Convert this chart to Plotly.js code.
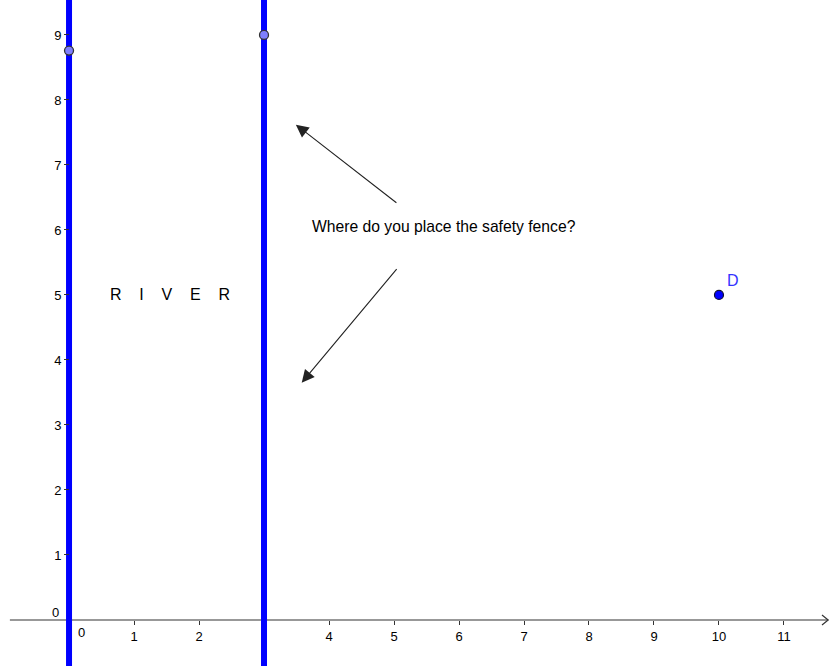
<!DOCTYPE html>
<html>
<head>
<meta charset="utf-8">
<script src="https://cdn.plot.ly/plotly-3.0.1.min.js"></script>
<style>html,body{margin:0;padding:0;background:#fff;}#chart{width:835px;height:666px;}</style>
</head>
<body>
<div id="chart"></div>
<script>
// ---- data ----
var fenceX = [0, 3];                  // river banks (vertical lines)
var bankPointX = [0, 3];
var bankPointY = [8.76, 9];
var pointD = {x: [10], y: [5], label: 'D'};
var xTicks = [1, 2, 4, 5, 6, 7, 8, 9, 10, 11];
var yTicks = [1, 2, 3, 4, 5, 6, 7, 8, 9];
var question = 'Where do you place the safety fence?';
var riverLetters = ['R', 'I', 'V', 'E', 'R'];
var arrowTails = [[5.06, 6.4], [5.06, 5.42]];
var arrowTips = [[3.49, 7.62], [3.58, 3.65]];

var xr = [-1.062, 11.785];
var yr = [-0.708, 9.538];
var FONT = 'Liberation Sans, Arial, sans-serif';

var traces = [];
fenceX.forEach(function (fx) {
  traces.push({x: [fx, fx], y: [-2, 11], mode: 'lines', line: {color: '#0000ff', width: 6},
    hoverinfo: 'skip', showlegend: false, cliponaxis: true});
});
traces.push({x: bankPointX, y: bankPointY, mode: 'markers',
  marker: {size: 9, color: '#7f7fff', line: {color: '#333333', width: 1.3}}, showlegend: false});
traces.push({x: pointD.x, y: pointD.y, mode: 'markers',
  marker: {size: 9, color: '#0000ff', line: {color: '#111133', width: 1.2}}, showlegend: false});

var ann = [];
for (var i = 0; i < arrowTips.length; i++) {
  ann.push({x: arrowTips[i][0], y: arrowTips[i][1], ax: arrowTails[i][0], ay: arrowTails[i][1],
    xref: 'x', yref: 'y', axref: 'x', ayref: 'y', text: '', showarrow: true,
    arrowhead: 2, arrowsize: 2.3, arrowwidth: 1.1, arrowcolor: '#222', standoff: 0, startstandoff: 0});
}
ann.push({x: 3.70, y: 6.05, xref: 'x', yref: 'y', text: question, showarrow: false,
  xanchor: 'left', yanchor: 'middle', font: {family: FONT, size: 15.7, color: '#000'}});
ann.push({x: 0.6, y: 5, xref: 'x', yref: 'y',
  text: riverLetters.join('\u00a0\u00a0\u00a0\u00a0'), showarrow: false,
  xanchor: 'left', yanchor: 'middle', font: {family: FONT, size: 16, color: '#000'}});
ann.push({x: 10.1, y: 5.22, xref: 'x', yref: 'y', text: pointD.label, showarrow: false,
  xanchor: 'left', yanchor: 'middle', font: {family: FONT, size: 16, color: '#3333ff'}});
// origin labels
ann.push({x: 0.1, y: -0.2, xref: 'x', yref: 'y', text: '0', showarrow: false,
  xanchor: 'left', yanchor: 'middle', font: {family: FONT, size: 13, color: '#000'}});
ann.push({x: -0.13, y: 0.12, xref: 'x', yref: 'y', text: '0', showarrow: false,
  xanchor: 'right', yanchor: 'middle', font: {family: FONT, size: 13, color: '#000'}});

var shapes = [
  {type: 'line', xref: 'x', yref: 'y', x0: -0.91, y0: 0, x1: 11.68, y1: 0, line: {color: '#333', width: 1.2}, layer: 'below'},
  {type: 'path', xref: 'x', yref: 'y', path: 'M 11.585,0.077 L 11.68,0 L 11.585,-0.077', line: {color: '#333', width: 1.2}, layer: 'below'}
];

var layout = {
  width: 835, height: 666,
  margin: {l: 0, r: 0, t: 0, b: 0, pad: 0},
  paper_bgcolor: '#fff', plot_bgcolor: '#fff',
  showlegend: false,
  xaxis: {range: xr, anchor: 'free', position: 46 / 666, showgrid: false, zeroline: false, showline: false,
    tickvals: xTicks, ticks: 'outside', ticklen: 4, tickcolor: '#333', tickwidth: 1,
    tickfont: {family: FONT, size: 13, color: '#000'}, fixedrange: true},
  yaxis: {range: yr, anchor: 'free', position: 69 / 835, showgrid: false, zeroline: false, showline: false,
    tickvals: yTicks, ticks: 'outside', ticklen: 5, tickcolor: '#333', tickwidth: 1,
    tickfont: {family: FONT, size: 13, color: '#000'}, fixedrange: true},
  annotations: ann,
  shapes: shapes
};

Plotly.newPlot('chart', traces, layout, {staticPlot: true, displayModeBar: false});
</script>
</body>
</html>
